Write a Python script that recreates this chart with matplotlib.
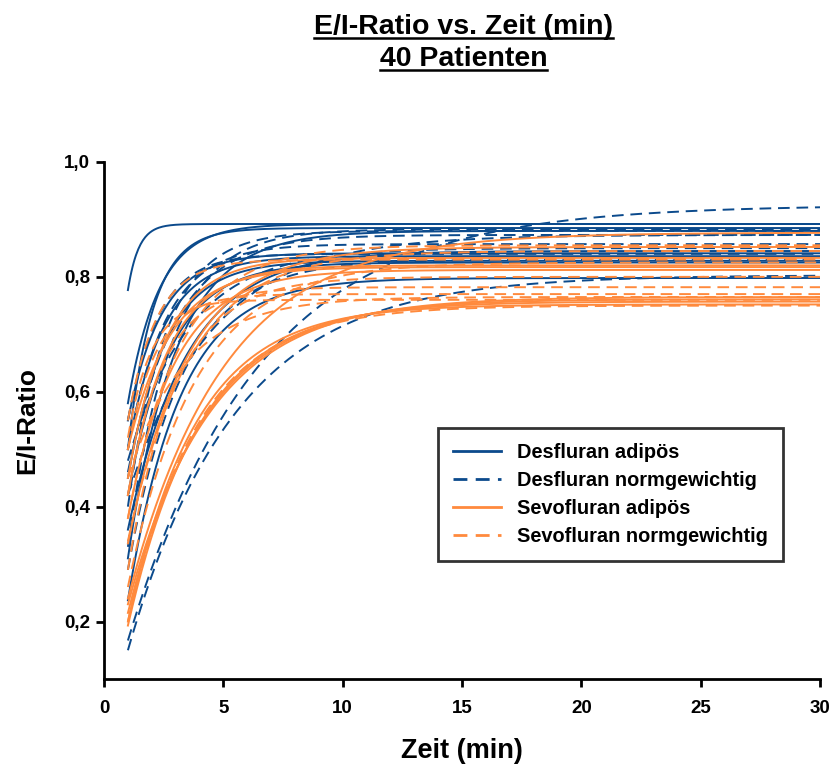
import numpy as np
import matplotlib
matplotlib.use("Agg")
import matplotlib.pyplot as plt
from matplotlib.lines import Line2D

plt.rcParams['font.family'] = ['Liberation Sans', 'DejaVu Sans']

# ---- data: per-patient exponential fit parameters (value at t=1, plateau, time constant) ----
groups = ["Desfluran adipös", "Desfluran normgewichtig",
          "Sevofluran adipös", "Sevofluran normgewichtig"]

des_adi_start   = [0.777, 0.50, 0.55, 0.50, 0.45, 0.42, 0.237, 0.31, 0.58, 0.36]
des_adi_plateau = [0.892, 0.885, 0.841, 0.836, 0.828, 0.825, 0.798, 0.880, 0.892, 0.845]
des_adi_tau     = [0.45, 1.05, 1.4, 1.5, 1.6, 1.8, 2.2, 2.0, 1.3, 2.5]

des_nor_start   = [0.15, 0.167, 0.33, 0.46, 0.50, 0.40, 0.55, 0.29, 0.48, 0.42]
des_nor_plateau = [0.803, 0.925, 0.883, 0.873, 0.857, 0.880, 0.840, 0.830, 0.850, 0.873]
des_nor_tau     = [4.5, 5.5, 1.8, 2.0, 1.6, 1.6, 1.3, 2.3, 2.6, 3.5]

sev_adi_start   = [0.193, 0.20, 0.215, 0.24, 0.336, 0.45, 0.50, 0.38, 0.23, 0.42]
sev_adi_plateau = [0.757, 0.752, 0.761, 0.877, 0.852, 0.833, 0.817, 0.812, 0.765, 0.820]
sev_adi_tau     = [3.1, 2.9, 3.3, 4.0, 2.5, 1.6, 1.8, 2.0, 3.5, 1.7]

sev_nor_start   = [0.20, 0.34, 0.42, 0.50, 0.45, 0.29, 0.52, 0.38, 0.55, 0.26]
sev_nor_plateau = [0.750, 0.845, 0.782, 0.770, 0.765, 0.800, 0.760, 0.855, 0.830, 0.825]
sev_nor_tau     = [3.0, 2.6, 1.5, 1.2, 2.4, 2.0, 1.0, 2.2, 1.2, 2.8]

t_start, t_end = 1.0, 30.0
xticks = [0, 5, 10, 15, 20, 25, 30]
yticks = [0.2, 0.4, 0.6, 0.8, 1.0]
ytick_labels = ["0,2", "0,4", "0,6", "0,8", "1,0"]

navy = "#0B4A8C"
orange = "#FF8A3D"

fig = plt.figure(figsize=(8.35, 7.72), dpi=100)
ax = fig.add_axes([0.1246, 0.1205, 0.8575, 0.6697])

t = np.linspace(t_start, t_end, 600)

def curves(starts, plats, taus, color, dashed):
    for s, p, tau in zip(starts, plats, taus):
        y = p - (p - s) * np.exp(-(t - t_start) / tau)
        if dashed:
            ax.plot(t, y, color=color, lw=1.4, linestyle=(0, (6, 3.5)))
        else:
            ax.plot(t, y, color=color, lw=1.4, linestyle='-')

curves(des_adi_start, des_adi_plateau, des_adi_tau, navy, False)
curves(des_nor_start, des_nor_plateau, des_nor_tau, navy, True)
curves(sev_adi_start, sev_adi_plateau, sev_adi_tau, orange, False)
curves(sev_nor_start, sev_nor_plateau, sev_nor_tau, orange, True)

ax.set_xlim(0, 30)
ax.set_ylim(0.1, 1.0)
ax.set_xticks(xticks)
ax.set_xticklabels([str(x) for x in xticks])
ax.set_yticks(yticks)
ax.set_yticklabels(ytick_labels)
for sp in ['top', 'right']:
    ax.spines[sp].set_visible(False)
for sp in ['left', 'bottom']:
    ax.spines[sp].set_linewidth(2)
ax.tick_params(axis='both', direction='out', length=6, width=2, labelsize=13.5)
ax.tick_params(axis='y', pad=4)
ax.tick_params(axis='x', pad=9)
for lbl in ax.get_xticklabels() + ax.get_yticklabels():
    lbl.set_fontweight('bold')

ax.set_xlabel("Zeit (min)", fontsize=19.5, fontweight='bold', labelpad=15)
ax.set_ylabel("E/I-Ratio", fontsize=19, fontweight='bold', labelpad=18)

handles = [Line2D([], [], color=navy, lw=2, ls='-'),
           Line2D([], [], color=navy, lw=2, linestyle=(0, (5, 3))),
           Line2D([], [], color=orange, lw=2, ls='-'),
           Line2D([], [], color=orange, lw=2, linestyle=(0, (5, 3)))]
leg = ax.legend(handles, groups, loc='upper left', bbox_to_anchor=(0.466, 0.4855),
                prop={'weight': 'bold', 'size': 14.4}, frameon=True, fancybox=False,
                handlelength=2.4, labelspacing=0.45, borderpad=0.75, handletextpad=0.8,
                borderaxespad=0)
leg.get_frame().set_edgecolor('black')
leg.get_frame().set_linewidth(2)

t1 = fig.text(0.555, 1 - 27 / 772, "E/I-Ratio vs. Zeit (min)", ha='center', va='center',
              fontsize=20.5, fontweight='bold')
t2 = fig.text(0.555, 1 - 59 / 772, "40 Patienten", ha='center', va='center',
              fontsize=20.5, fontweight='bold')

fig.canvas.draw()
r = fig.canvas.get_renderer()
for tx in (t1, t2):
    bb = tx.get_window_extent(r)
    ybase = (bb.y0 + 2) / fig.bbox.height
    fig.add_artist(Line2D([bb.x0 / fig.bbox.width, bb.x1 / fig.bbox.width], [ybase, ybase],
                          transform=fig.transFigure, color='black', lw=1.8))

fig.savefig("out.png", dpi=100)
